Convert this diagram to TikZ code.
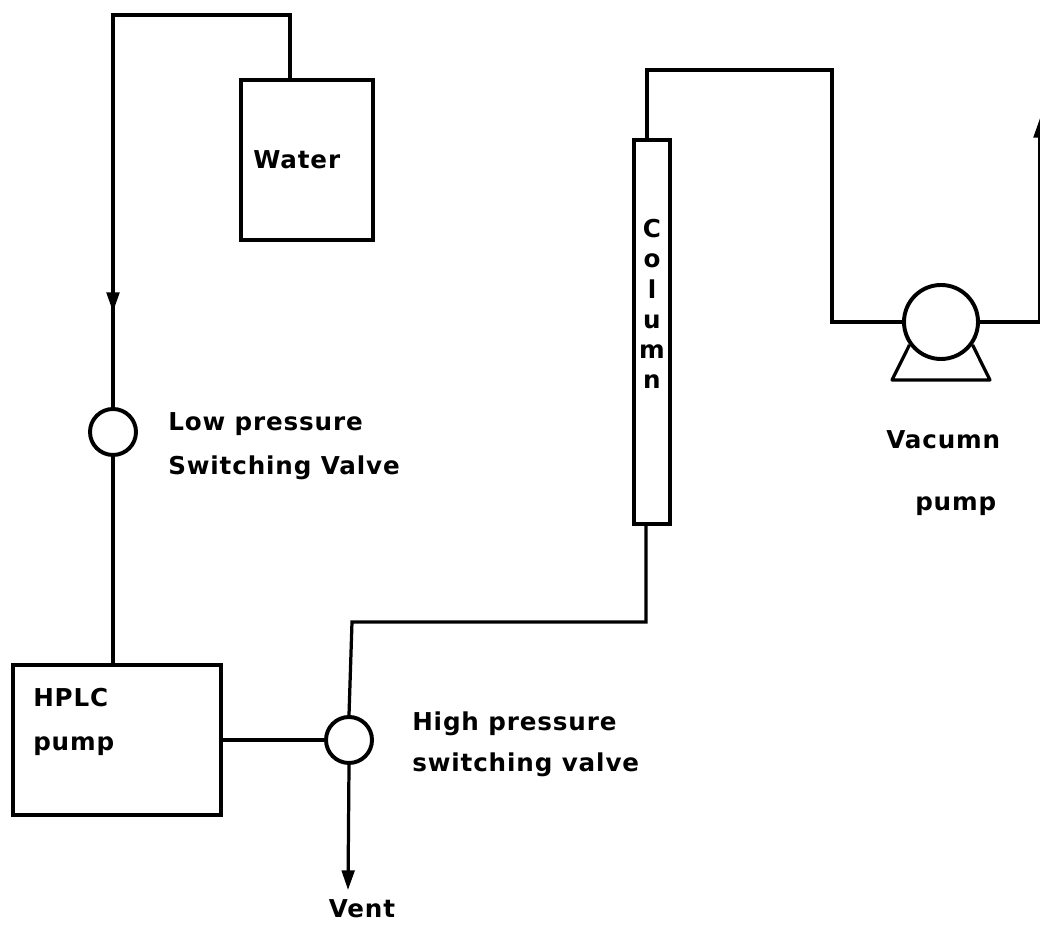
\documentclass[tikz,border=0pt]{standalone}
\usepackage{fontspec}
\setsansfont{DejaVu Sans}[LetterSpace=3.5]
\usetikzlibrary{arrows.meta,positioning,calc}

\begin{document}
\begin{tikzpicture}[
    vessel/.style={rectangle, draw=black, line width=2.6pt, inner sep=0pt},
    valve/.style={circle, draw=black, line width=2.8pt, inner sep=0pt, minimum size=1.15cm},
    pipe/.style={draw=black, line width=2.3pt},
    tag/.style={font=\sffamily\bfseries\fontsize{17.5}{21}\selectfont, text=black, inner sep=0pt, align=left},
    >={Triangle[length=14pt,width=9pt]}
  ]
    \useasboundingbox (0,0) rectangle (26,23.15);

    % Vessels
    \node[vessel, minimum width=3.3cm, minimum height=4cm] (water) at (7.675,19.15) {};
    \node[vessel, minimum width=5.2cm, minimum height=3.75cm] (hplc) at (2.925,4.65) {};
    \node[vessel, minimum width=0.9cm, minimum height=9.6cm] (column) at (16.3,14.85) {};

    % Valves and vacuum pump
    \node[valve] (lowvalve) at (2.825,12.35) {};
    \node[valve] (highvalve) at (8.725,4.65) {};
    \node[valve, minimum size=1.85cm] (vacpump) at (23.525,15.1) {};
    \coordinate (footleft) at (22.3,13.65);
    \coordinate (footright) at (24.75,13.65);
    \draw[pipe, line join=round] (vacpump.216) -- (footleft) -- (footright) -- (vacpump.-36);

    % Labels
    \node[tag, anchor=west] (watertag) at (6.325,19.15) {Water};
    \node[tag, anchor=west] (hplctag) at (0.825,5.1) {HPLC\\[10pt]pump};
    \node[tag, anchor=west] (lowtag) at (4.2,12.0) {Low pressure\\[10pt]Switching Valve};
    \node[tag, anchor=west] (hightag) at (10.3,4.55) {High pressure\\[8pt]switching valve};
    \node[tag, anchor=west] (vactag) at (22.15,12.15) {Vacumn};
    \node[tag, anchor=west] (pumptag) at (22.875,10.5) {pump};
    \node[tag, align=center, font=\sffamily\bfseries\fontsize{17.5}{21.5}\selectfont] (columntag) at (16.3,15.55)
      {C\\o\\l\\u\\m\\n};
    \node[tag] (venttag) at (9.05,0.425) {Vent};

    % Water line
    \coordinate (waterout) at (7.25,21.15);
    \coordinate (feedtop) at (2.825,22.775);
    \coordinate (feedmid) at (2.825,15.35);
    \draw[pipe, ->] (waterout) |- (feedtop) -- (feedmid);
    \draw[pipe, shorten <=-6pt] (feedmid) -- (lowvalve.north);
    \draw[pipe] (lowvalve.south) -- (lowvalve.south |- hplc.north);

    % Pump to high pressure valve
    \draw[pipe, line width=3pt] (hplc.east) -- (highvalve.west);

    % Valve to column
    \coordinate (crossrun) at (8.8,7.6);
    \coordinate (colin) at (16.15,10.05);
    \draw[pipe] (highvalve.north) -- (crossrun) -| (colin);

    % Vent
    \coordinate (ventend) at (8.7,0.9);
    \draw[pipe, ->] (highvalve.south) -- (ventend);

    % Column to vacuum pump and out
    \coordinate (colout) at (16.175,19.65);
    \coordinate (toprun) at (20.8,21.4);
    \coordinate (pumpout) at (26,20.2);
    \draw[pipe] (colout) |- (toprun) |- (vacpump.west);
    \draw[pipe, ->] (vacpump.east) -| (pumpout);
  \end{tikzpicture}
\end{document}
